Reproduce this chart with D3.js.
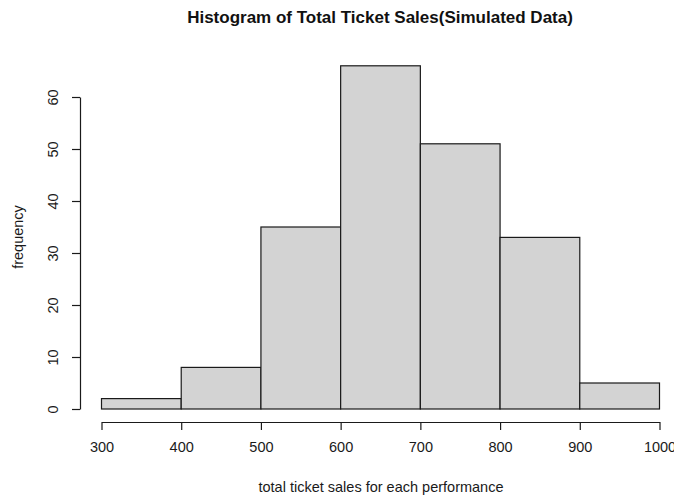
<!DOCTYPE html>
<html lang="en">
<head>
  <meta charset="UTF-8">
  <title>Histogram of Total Ticket Sales</title>
  <script src="https://d3js.org/d3.v7.min.js"></script>
  <style>
    body { margin: 0; background: #fff; }
    svg { display: block; font-family: "Liberation Sans", Arial, sans-serif; }
    .bar { fill: #d3d3d3; stroke: #1a1a1a; stroke-width: 1.2px; }
    .axis path, .axis line { stroke: #1a1a1a; stroke-width: 1.2px; }
    .axis text { font-size: 14.5px; fill: #1a1a1a; }
  </style>
</head>
<body>
  <svg id="chart" width="674" height="498"></svg>
  <script>
    // bins of the histogram (lower edge, upper edge) and counts
    const binStarts = [300, 400, 500, 600, 700, 800, 900];
    const binEnds = [400, 500, 600, 700, 800, 900, 1000];
    const counts = [2, 8, 35, 66, 51, 33, 5];
    const xTicks = [300, 400, 500, 600, 700, 800, 900, 1000];
    const yTicks = [0, 10, 20, 30, 40, 50, 60];

    const svg = d3.select('#chart');
    const x = d3.scaleLinear().domain([300, 1000]).range([101.5, 659.5]);
    const y = d3.scaleLinear().domain([0, 60]).range([409, 97]);

    const bins = binStarts.map((s, i) => ({ x0: s, x1: binEnds[i], n: counts[i] }));

    svg.selectAll('rect.bar').data(bins).enter().append('rect')
      .attr('class', 'bar')
      .attr('x', d => x(d.x0))
      .attr('y', d => y(d.n))
      .attr('width', d => x(d.x1) - x(d.x0))
      .attr('height', d => y(0) - y(d.n));

    // x axis (R style: detached below the plot)
    const xAxis = svg.append('g')
      .attr('class', 'axis')
      .attr('transform', 'translate(0,422)')
      .call(d3.axisBottom(x).tickValues(xTicks).tickSize(8).tickSizeOuter(0).tickFormat(d3.format('d')));
    xAxis.selectAll('text').attr('dy', '1.3em');

    // y axis with rotated labels
    const yAxis = svg.append('g')
      .attr('class', 'axis')
      .attr('transform', 'translate(80,0)')
      .call(d3.axisLeft(y).tickValues(yTicks).tickSize(8).tickSizeOuter(0));
    yAxis.selectAll('text')
      .attr('x', null).attr('dy', null).attr('y', 0)
      .attr('text-anchor', 'middle')
      .attr('dominant-baseline', 'central')
      .attr('transform', 'translate(-27,0) rotate(-90)');

    svg.append('text')
      .attr('x', 380).attr('y', 23)
      .attr('text-anchor', 'middle')
      .style('font-size', '17px').style('font-weight', 'bold').style('fill', '#111')
      .text('Histogram of Total Ticket Sales(Simulated Data)');

    svg.append('text')
      .attr('x', 381).attr('y', 492)
      .attr('text-anchor', 'middle')
      .style('font-size', '14.5px').style('fill', '#1a1a1a')
      .text('total ticket sales for each performance');

    svg.append('text')
      .attr('transform', 'translate(23,237) rotate(-90)')
      .attr('text-anchor', 'middle')
      .style('font-size', '14.5px').style('fill', '#1a1a1a')
      .text('frequency');
  </script>
</body>
</html>
